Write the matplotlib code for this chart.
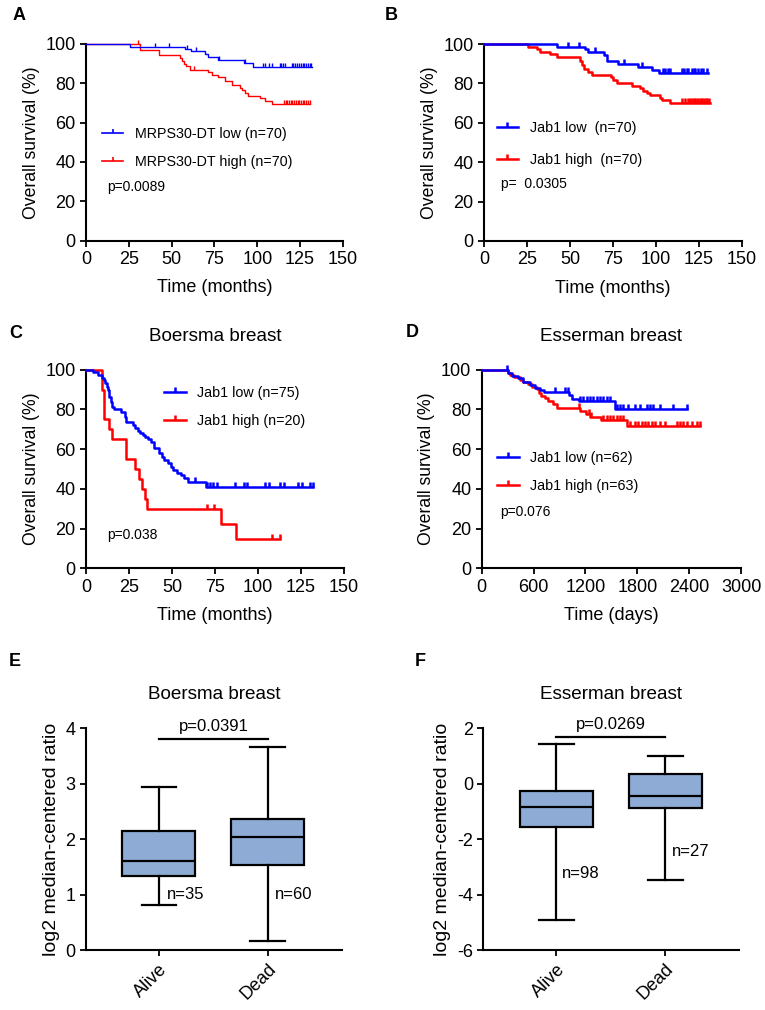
import numpy as np
import matplotlib
matplotlib.use('Agg')
from matplotlib import pyplot as plt
from matplotlib.lines import Line2D

plt.rcParams['font.family'] = ['Liberation Sans', 'DejaVu Sans']
plt.rcParams['axes.unicode_minus'] = False

BLUE = '#0000ff'
RED = '#ff0000'
BOX = '#8eabd6'

# ---- panel A : MRPS30-DT, months ----
a_low_t = [0, 25.7, 57.8, 61.5, 69.5, 71.4, 76.9, 92.2, 97.7, 131.7]
a_low_s = [100, 98.6, 97.4, 96.2, 94.9, 93.2, 92.0, 90.5, 88.1, 88.1]
a_low_ticks = [40, 48.6, 59, 64.2, 77.5, 93, 103.4, 104.4, 106.8, 108.3, 113, 114, 115, 116,
               120, 121, 122, 123, 124.5, 125.5, 126.5, 127.5, 128.5, 129.5, 130.5, 131.5]
a_high_t = [0, 31.5, 42.8, 54.9, 56, 57, 58.5, 60.5, 71.4, 73.7, 77.2, 81.1, 85, 89.9, 91,
            92.8, 94.7, 101.5, 104.5, 108.4, 130.7]
a_high_s = [100, 97.1, 94.5, 92.9, 91.4, 90.0, 88.6, 86.9, 85.6, 84.1, 83.1, 81.0, 79.3, 77.6,
            76.5, 75.2, 73.4, 72.5, 70.8, 69.3, 69.3]
a_high_ticks = [30.5, 63, 115.5, 116.5, 117.5, 118.5, 119.5, 120.5, 121.5, 122.5, 123.5, 124.5,
                125.5, 126.5, 127.5, 128.5, 129.5, 130.5]
a_labels = ['MRPS30-DT low (n=70)', 'MRPS30-DT high (n=70)']
a_p = 'p=0.0089'

# ---- panel B : Jab1, months ----
b_low_t = [0, 42.5, 58.8, 60.5, 69.8, 71.4, 78, 89.8, 97.6, 102, 130.6]
b_low_s = [100, 98.6, 97.3, 95.8, 94.2, 91.4, 89.8, 88.3, 87.0, 85.5, 85.5]
b_low_ticks = [48.7, 55.5, 64.6, 81.7, 91.8, 104.4, 105.4, 106.9, 108.3, 115.1, 116.6, 118,
               118.9, 120.9, 122, 123, 124.8, 126.3, 127.5, 129.6]
b_high_t = [0, 25.8, 30.7, 32.6, 38.4, 42.3, 55.9, 57.2, 58.4, 60.7, 62.7, 73.9, 75.3, 77.2,
            85.9, 90.8, 92.7, 94.7, 96.6, 102.4, 103.4, 108.2, 131.5]
b_high_s = [100, 98.6, 97.3, 96.0, 94.8, 93.2, 91.2, 89.2, 87.1, 85.6, 84.3, 83.1, 81.8, 80.2,
            78.9, 77.6, 76.3, 75.1, 74.0, 72.6, 71.6, 70.1, 70.1]
b_high_ticks = [115.5, 117, 118.5, 120, 121, 122, 123, 124, 125, 126, 127, 128, 129, 130, 131]
b_labels = ['Jab1 low  (n=70)', 'Jab1 high  (n=70)']
b_p = 'p=  0.0305'

# ---- panel C : Boersma breast, months ----
c_low_t = [0, 4.0, 6.8, 9.3, 10.7, 11.2, 12.0, 12.6, 13.2, 13.6, 14.5, 15.1, 16.5, 20.3, 22.9,
           23.3, 27.1, 28.7, 30.0, 31.4, 32.9, 34.5, 35.9, 37.8, 39.7, 42.2, 44.2, 45.5, 47.5,
           49.4, 50.8, 52.7, 55.2, 57.2, 59.1, 70.0, 132.2]
c_low_s = [100, 98.7, 97.3, 96.0, 94.7, 93.1, 91.4, 89.8, 88.1, 86.4, 83.6, 81.4, 80.3, 78.9,
           76.3, 73.8, 72.1, 70.5, 69.1, 68.0, 67.1, 66.3, 65.1, 63.8, 60.4, 57.9, 56.2, 54.5,
           52.9, 51.2, 49.5, 47.8, 47.0, 45.3, 43.6, 41.0, 41.0]
c_low_ticks = [63.4, 70.5, 72.1, 73.6, 76.4, 86.6, 92.1, 93.8, 104.1, 106.6, 112.8, 115.1,
               123.1, 125.4, 130.2, 131.8]
c_high_t = [0, 9.5, 10.5, 13.6, 15.1, 23.3, 28.5, 31.0, 32.7, 34.2, 35.5, 78.7, 87.0, 112.8]
c_high_s = [100, 90, 75, 70, 65, 55, 50, 45, 40, 35, 30, 22.5, 15, 15]
c_high_ticks = [70.5, 74.6, 107.9, 112.8]
c_labels = ['Jab1 low (n=75)', 'Jab1 high (n=20)']
c_p = 'p=0.038'

# ---- panel D : Esserman breast, days ----
d_low_t = [0, 300, 345, 420, 480, 555, 615, 670, 720, 1010, 1045, 1120, 1540, 2372]
d_low_s = [100, 98.4, 96.8, 95.6, 94.0, 92.3, 90.8, 89.6, 88.7, 87.1, 85.5, 84.4, 80.2, 80.2]
d_low_ticks = [289, 848, 964, 1003, 1138, 1176, 1215, 1253, 1292, 1330, 1369, 1407, 1446, 1485,
               1562, 1600, 1639, 1697, 1774, 1832, 1909, 1948, 1986, 2063, 2218, 2372]
d_high_t = [0, 305, 330, 370, 445, 482, 540, 580, 636, 660, 686, 733, 771, 820, 870, 1135, 1210,
            1253, 1375, 1678, 2526]
d_high_s = [100, 98.4, 97.5, 96.6, 95.0, 94.0, 92.6, 91.3, 90.3, 88.5, 87.0, 85.6, 84.5, 83.0,
            80.6, 79.0, 77.6, 76.3, 74.6, 71.5, 71.5]
d_high_ticks = [1125, 1240, 1265, 1407, 1446, 1485, 1523, 1562, 1600, 1639, 1716, 1774, 1813,
                1851, 1890, 1928, 1967, 2005, 2063, 2121, 2256, 2295, 2333, 2372, 2430, 2488, 2526]
d_labels = ['Jab1 low (n=62)', 'Jab1 high (n=63)']
d_p = 'p=0.076'

# ---- panels E, F : box plots (whislo, q1, med, q3, whishi) ----
groups = ['Alive', 'Dead']
e_alive = [0.82, 1.34, 1.61, 2.155, 2.94]
e_dead = [0.17, 1.54, 2.04, 2.37, 3.66]
e_n = ['n=35', 'n=60']
e_p = 'p=0.0391'
e_bar_y = 3.81
f_alive = [-4.89, -1.55, -0.85, -0.26, 1.43]
f_dead = [-3.45, -0.86, -0.44, 0.37, 1.02]
f_n = ['n=98', 'n=27']
f_p = 'p=0.0269'
f_bar_y = 1.69

tick_marker = [(0, 0), (0, 1)]


def style_axes(ax):
    ax.spines[['top', 'right']].set_visible(False)
    for s in ['left', 'bottom']:
        ax.spines[s].set_linewidth(1.5)
    ax.tick_params(direction='out', length=4.5, width=1.3, labelsize=13, pad=3)


def surv_at(t, s, times):
    idx = np.searchsorted(t, times, side='right') - 1
    return np.asarray(s)[idx]


def km_panel(ax, low, high, labels, ptext, xmax, xstep, xlabel, lw, leg_xy, leg_sp, p_xy, ms):
    for (t, s, ticks), col in [(high, RED), (low, BLUE)]:
        ax.step(t, s, where='post', color=col, lw=lw, clip_on=False, zorder=3)
        ax.plot(ticks, surv_at(t, s, ticks), ls='none', marker=tick_marker, ms=ms,
                mec=col, mew=lw, clip_on=False, zorder=3)
    ax.set_xlim(0, xmax)
    ax.set_ylim(0, 100)
    ax.set_xticks(np.arange(0, xmax + 1, xstep))
    ax.set_yticks(range(0, 101, 20))
    ax.set_xlabel(xlabel, fontsize=13, labelpad=8)
    ax.set_ylabel('Overall survival (%)', fontsize=12.7, labelpad=4)
    style_axes(ax)
    handles = [Line2D([], [], color=c, lw=max(lw, 1.2), marker=tick_marker, ms=ms, mew=max(lw, 1.2))
               for c in (BLUE, RED)]
    ax.legend(handles, labels, loc='upper left', bbox_to_anchor=leg_xy, frameon=False,
              fontsize=10.3, handlelength=1.5, handletextpad=0.8, labelspacing=leg_sp,
              borderaxespad=0, borderpad=0)
    ax.text(p_xy[0], p_xy[1], ptext, transform=ax.transAxes, fontsize=10, va='center')


def box_panel(ax, alive, dead, ylim, ystep, ntext, n_xy, ptext, bar_y, p_y, title):
    stats = []
    for name, v in zip(groups, [alive, dead]):
        stats.append(dict(label=name, whislo=v[0], q1=v[1], med=v[2], q3=v[3], whishi=v[4]))
    ax.bxp(stats, positions=[0, 1], widths=0.67, capwidths=0.32, showfliers=False,
           patch_artist=True,
           boxprops=dict(facecolor=BOX, edgecolor='black', linewidth=1.6),
           medianprops=dict(color='black', linewidth=1.6),
           whiskerprops=dict(color='black', linewidth=1.6),
           capprops=dict(color='black', linewidth=1.6))
    ax.set_xlim(-0.67, 1.68)
    ax.set_ylim(*ylim)
    ax.set_yticks(np.arange(ylim[0], ylim[1] + 0.1, ystep))
    style_axes(ax)
    ax.set_xticks([0, 1])
    ax.set_xticklabels(groups, rotation=45, ha='right', rotation_mode='anchor')
    ax.set_ylabel('log2 median-centered ratio', fontsize=14, labelpad=4)
    for (x, y), t in zip(n_xy, ntext):
        ax.text(x, y, t, fontsize=12, va='center', ha='left')
    ax.plot([0, 1], [bar_y, bar_y], color='black', lw=1.6, clip_on=False)
    ax.text(0.5, p_y, ptext, fontsize=12, ha='center', va='center', clip_on=False)
    ax.set_title(title, fontsize=13.6, pad=21)


fig = plt.figure(figsize=(7.65, 10.1), dpi=100)

axA = fig.add_axes([0.1124, 0.7617, 0.3359, 0.1948])
km_panel(axA, (a_low_t, a_low_s, a_low_ticks), (a_high_t, a_high_s, a_high_ticks), a_labels, a_p,
         150, 25, 'Time (months)', 1.0, (0.062, 0.58), 1.03, (0.083, 0.275), 6)

axB = fig.add_axes([0.6327, 0.7614, 0.3369, 0.1950])
km_panel(axB, (b_low_t, b_low_s, b_low_ticks), (b_high_t, b_high_s, b_high_ticks), b_labels, b_p,
         150, 25, 'Time (months)', 1.8, (0.049, 0.607), 1.2, (0.065, 0.288), 7)

axC = fig.add_axes([0.1124, 0.4373, 0.3373, 0.1966])
km_panel(axC, (c_low_t, c_low_s, c_low_ticks), (c_high_t, c_high_s, c_high_ticks), c_labels, c_p,
         150, 25, 'Time (months)', 1.8, (0.303, 0.916), 0.93, (0.083, 0.168), 7)
axC.set_title('Boersma breast', fontsize=13.6, pad=21)

axD = fig.add_axes([0.6297, 0.4373, 0.3390, 0.1966])
km_panel(axD, (d_low_t, d_low_s, d_low_ticks), (d_high_t, d_high_s, d_high_ticks), d_labels, d_p,
         3000, 600, 'Time (days)', 1.8, (0.06, 0.589), 0.93, (0.073, 0.285), 7)
axD.set_title('Esserman breast', fontsize=13.6, pad=21)

axE = fig.add_axes([0.1124, 0.0591, 0.3346, 0.2198])
box_panel(axE, e_alive, e_dead, (0, 4), 1, e_n, [(0.07, 1.0), (1.064, 1.0)], e_p, e_bar_y, 4.03,
          'Boersma breast')

axF = fig.add_axes([0.6318, 0.0591, 0.3346, 0.2198])
box_panel(axF, f_alive, f_dead, (-6, 2), 2, f_n, [(0.055, -3.23), (1.064, -2.43)], f_p, f_bar_y, 2.12,
          'Esserman breast')

# panel letters
for letter, (x, y) in zip('ABCDEF', [(19, 15), (391, 15), (16, 333), (412, 332), (15, 662), (420, 662)]):
    fig.text(x / 765, 1 - y / 1010, letter, fontsize=13, fontweight='bold', ha='center', va='center')

fig.savefig('out.png', dpi=100)
